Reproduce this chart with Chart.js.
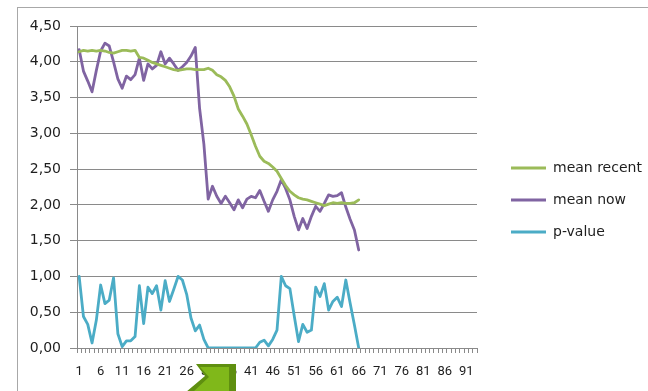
<!DOCTYPE html>
<html><head><meta charset="utf-8">
<script src="https://cdn.jsdelivr.net/npm/chart.js@4.4.1/dist/chart.umd.min.js"></script>
<style>
html,body{margin:0;padding:0;background:#fff;width:648px;height:391px;overflow:hidden}
#frame{position:absolute;left:17px;top:7px;width:700px;height:500px;border:1px solid #a8a8a8}
#wrap{position:absolute;left:0;top:0;width:648px;height:391px}
</style></head><body>
<div id="frame"></div>
<div id="wrap"><canvas id="c" width="648" height="391"></canvas></div>
<script>
const categories = Array.from({length: 93}, (_, i) => String(i + 1));
const tickLabels = ['1','6','11','16','21','26','31','36','41','46','51','56','61','66','71','76','81','86','91'];
const seriesNames = ['mean recent', 'mean now', 'p-value'];

const meanRecent = [
  4.14,4.16,4.15,4.16,4.15,4.16,4.15,4.13,4.12,4.14,
  4.16,4.16,4.15,4.16,4.06,4.05,4.02,3.99,3.97,3.95,
  3.93,3.91,3.89,3.88,3.89,3.90,3.90,3.89,3.89,3.89,
  3.91,3.88,3.82,3.79,3.74,3.65,3.52,3.34,3.24,3.13,
  2.98,2.82,2.68,2.61,2.58,2.53,2.47,2.37,2.27,2.19,
  2.14,2.10,2.08,2.07,2.05,2.03,2.01,1.99,2.01,2.03,
  2.02,2.03,2.02,2.02,2.03,2.07
];
const meanNow = [
  4.17,3.87,3.73,3.58,3.88,4.15,4.26,4.22,4.00,3.76,
  3.63,3.80,3.75,3.82,4.05,3.74,3.97,3.90,3.95,4.14,
  3.97,4.05,3.97,3.88,3.93,3.99,4.08,4.20,3.35,2.85,
  2.08,2.26,2.12,2.02,2.12,2.03,1.93,2.07,1.96,2.08,
  2.12,2.10,2.20,2.05,1.91,2.07,2.19,2.35,2.23,2.07,
  1.84,1.65,1.81,1.67,1.84,1.98,1.91,2.02,2.14,2.12,
  2.13,2.17,1.97,1.80,1.65,1.37
];
const pValue = [
  1.00,0.44,0.33,0.07,0.39,0.88,0.62,0.67,0.98,0.20,
  0.02,0.10,0.10,0.16,0.87,0.34,0.85,0.76,0.87,0.53,
  0.94,0.65,0.82,1.00,0.95,0.75,0.42,0.24,0.32,0.12,
  0.00,0.00,0.00,0.00,0.00,0.00,0.00,0.00,0.00,0.00,
  0.00,0.00,0.08,0.11,0.03,0.12,0.25,1.00,0.87,0.83,
  0.45,0.09,0.33,0.22,0.25,0.85,0.72,0.90,0.53,0.65,
  0.71,0.58,0.95,0.63,0.32,0.00
];

const gridColor = '#8a8a8a';
const textColor = '#1e1e1e';

const tweaks = {
  id: 'tweaks',
  afterInit(chart) {
    const lg = chart.legend;
    const fit = lg.fit;
    lg.fit = function () { fit.call(this); this.width = 171; };
  },
  afterLayout(chart) {
    const lg = chart.legend;
    lg.left = 493; lg.right = 648; lg.top = 143; lg.bottom = 391;
  },
  afterDraw(chart) {
    const ctx = chart.ctx;
    ctx.save();
    ctx.beginPath();
    ctx.moveTo(196, 364); ctx.lineTo(236, 364); ctx.lineTo(236, 392);
    ctx.lineTo(186, 392); ctx.lineTo(205, 376); ctx.closePath();
    ctx.fillStyle = '#5f8f10';
    ctx.fill();
    ctx.beginPath();
    ctx.moveTo(200, 367); ctx.lineTo(229, 367); ctx.lineTo(229, 392);
    ctx.lineTo(193, 392); ctx.lineTo(209, 377); ctx.closePath();
    ctx.fillStyle = '#80b81a';
    ctx.fill();
    ctx.restore();
  }
};

new Chart(document.getElementById('c'), {
  type: 'line',
  data: {
    labels: categories,
    datasets: [
      {label: seriesNames[0], data: meanRecent, borderColor: '#9bbb59', backgroundColor: '#9bbb59'},
      {label: seriesNames[1], data: meanNow, borderColor: '#8064a2', backgroundColor: '#8064a2'},
      {label: seriesNames[2], data: pValue, borderColor: '#4bacc6', backgroundColor: '#4bacc6'}
    ]
  },
  options: {
    responsive: false,
    animation: false,
    devicePixelRatio: 1,
    elements: {
      line: {borderWidth: 2.8, tension: 0, borderCapStyle: 'round', borderJoinStyle: 'round'},
      point: {radius: 0, hoverRadius: 0}
    },
    layout: {padding: {top: 26, left: 0, right: 0, bottom: 0}},
    plugins: {
      tooltip: {enabled: false},
      legend: {
        position: 'right',
        align: 'start',
        labels: {
          boxWidth: 35,
          boxHeight: 3,
          padding: 18,
          color: textColor,
          font: {family: 'DejaVu Sans', size: 14},
          generateLabels(chart) {
            return Chart.defaults.plugins.legend.labels.generateLabels(chart)
              .map(l => Object.assign(l, {lineWidth: 0, fillStyle: l.strokeStyle}));
          }
        }
      }
    },
    scales: {
      x: {
        type: 'category',
        offset: true,
        grid: {display: true, drawOnChartArea: false, drawTicks: true, tickLength: 5, offset: true, color: gridColor},
        border: {display: true, color: gridColor, width: 1},
        ticks: {
          autoSkip: false, maxRotation: 0, minRotation: 0, padding: 11,
          color: textColor, font: {family: 'Roboto', size: 13},
          callback(v) { const l = this.getLabelForValue(v); return tickLabels.includes(l) ? l : ''; }
        },
        afterFit(s) { s.height = 43; }
      },
      y: {
        min: 0, max: 4.5,
        grid: {color: gridColor, tickLength: 7},
        border: {display: true, color: gridColor},
        ticks: {
          stepSize: 0.5, padding: 9, color: textColor,
          font: {family: 'DejaVu Sans', size: 14},
          callback: v => v.toFixed(2).replace('.', ',')
        },
        afterFit(s) { s.width = 77; }
      }
    }
  },
  plugins: [tweaks]
});
</script>
</body></html>
